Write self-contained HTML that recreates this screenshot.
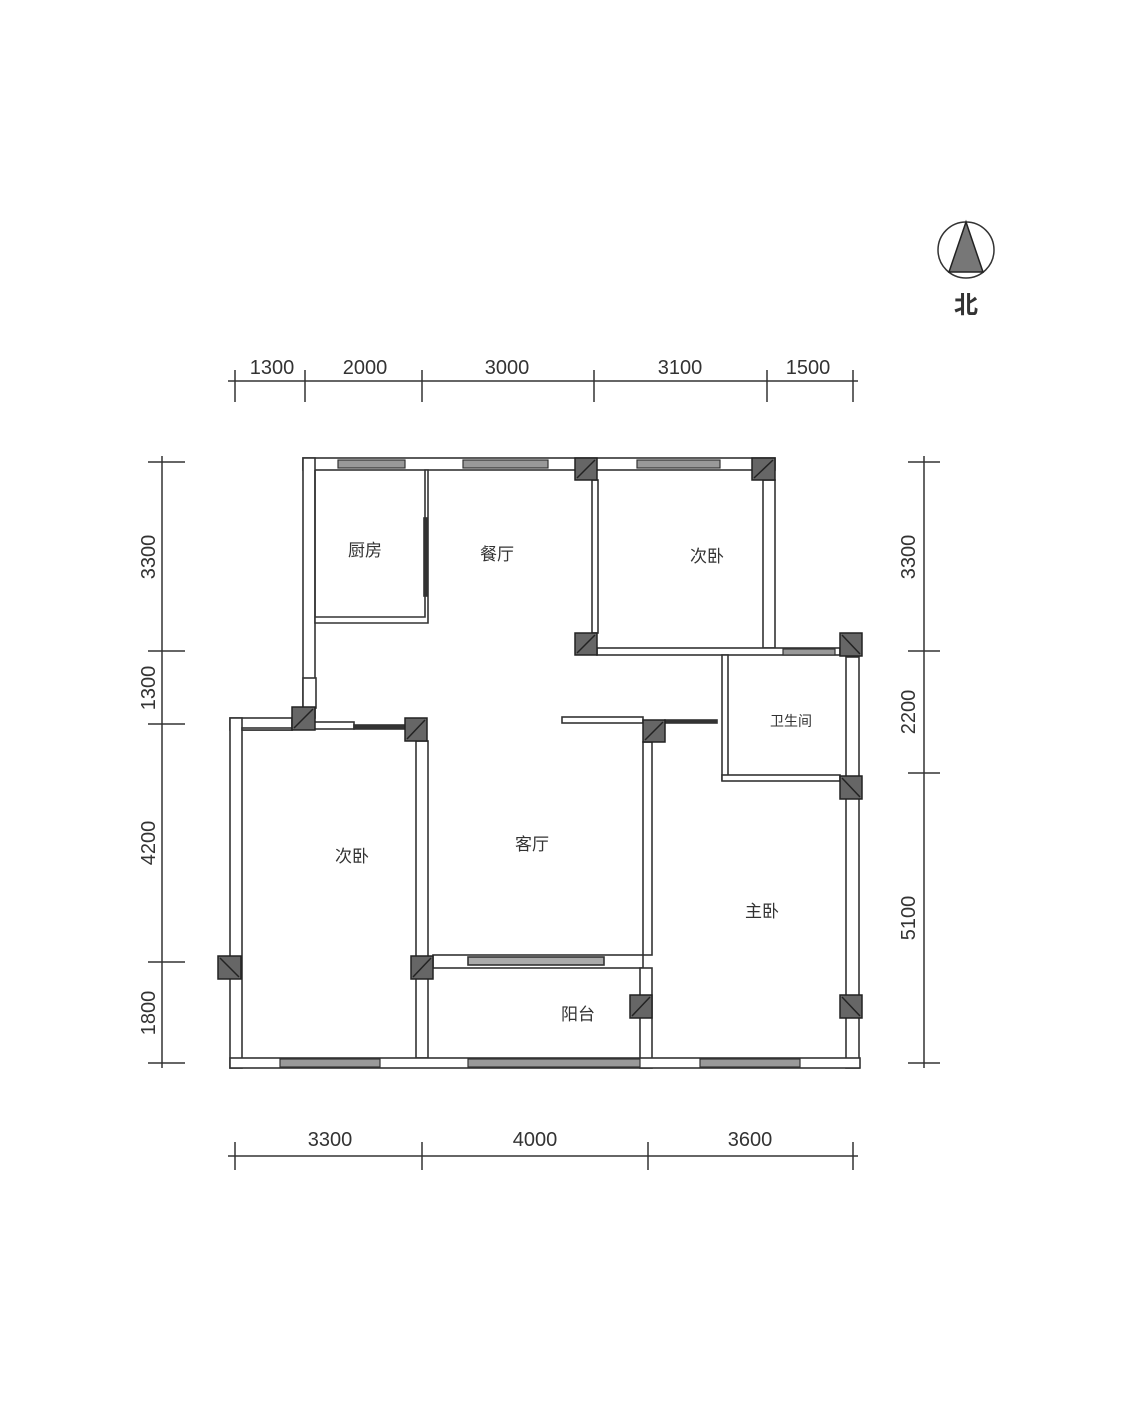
<!DOCTYPE html>
<html><head><meta charset="utf-8"><style>
html,body{margin:0;padding:0;background:#fff;}
svg{display:block;}
text{font-family:"Liberation Sans","Noto Sans CJK SC",sans-serif;fill:#333;}
.w{fill:#fff;stroke:#333;stroke-width:1.6;}
.win{fill:#999;stroke:#333;stroke-width:1.2;}
.col{fill:#666;stroke:#222;stroke-width:1.5;}
.dim{stroke:#333;stroke-width:1.5;fill:none;}
.room{font-size:17px;fill:#333;}
.num{font-size:20px;fill:#444;}
</style></head><body>
<svg width="1125" height="1409" viewBox="0 0 1125 1409" xmlns="http://www.w3.org/2000/svg">
<!-- north -->
<circle cx="966" cy="250" r="28" fill="none" stroke="#333" stroke-width="1.5"/>
<polygon points="966,222 949,272 983,272" fill="#777" stroke="#222" stroke-width="1.5"/>
<text x="966" y="313" text-anchor="middle" font-size="24" font-weight="bold" style="fill:#333">北</text>

<!-- top dims -->
<g class="dim">
<line x1="228" y1="381" x2="858" y2="381"/>
<line x1="235" y1="370" x2="235" y2="402"/><line x1="305" y1="370" x2="305" y2="402"/>
<line x1="422" y1="370" x2="422" y2="402"/><line x1="594" y1="370" x2="594" y2="402"/>
<line x1="767" y1="370" x2="767" y2="402"/><line x1="853" y1="370" x2="853" y2="402"/>
<!-- bottom -->
<line x1="228" y1="1156" x2="858" y2="1156"/>
<line x1="235" y1="1142" x2="235" y2="1170"/><line x1="422" y1="1142" x2="422" y2="1170"/>
<line x1="648" y1="1142" x2="648" y2="1170"/><line x1="853" y1="1142" x2="853" y2="1170"/>
<!-- left -->
<line x1="162" y1="456" x2="162" y2="1068"/>
<line x1="148" y1="462" x2="185" y2="462"/><line x1="148" y1="651" x2="185" y2="651"/>
<line x1="148" y1="724" x2="185" y2="724"/><line x1="148" y1="962" x2="185" y2="962"/>
<line x1="148" y1="1063" x2="185" y2="1063"/>
<!-- right -->
<line x1="924" y1="456" x2="924" y2="1068"/>
<line x1="908" y1="462" x2="940" y2="462"/><line x1="908" y1="651" x2="940" y2="651"/>
<line x1="908" y1="773" x2="940" y2="773"/><line x1="908" y1="1063" x2="940" y2="1063"/>
</g>
<g class="num">
<text x="272" y="374" text-anchor="middle">1300</text>
<text x="365" y="374" text-anchor="middle">2000</text>
<text x="507" y="374" text-anchor="middle">3000</text>
<text x="680" y="374" text-anchor="middle">3100</text>
<text x="808" y="374" text-anchor="middle">1500</text>
<text x="330" y="1146" text-anchor="middle">3300</text>
<text x="535" y="1146" text-anchor="middle">4000</text>
<text x="750" y="1146" text-anchor="middle">3600</text>
<text transform="translate(155,557) rotate(-90)" text-anchor="middle">3300</text>
<text transform="translate(155,688) rotate(-90)" text-anchor="middle">1300</text>
<text transform="translate(155,843) rotate(-90)" text-anchor="middle">4200</text>
<text transform="translate(155,1013) rotate(-90)" text-anchor="middle">1800</text>
<text transform="translate(915,557) rotate(-90)" text-anchor="middle">3300</text>
<text transform="translate(915,712) rotate(-90)" text-anchor="middle">2200</text>
<text transform="translate(915,918) rotate(-90)" text-anchor="middle">5100</text>
</g>

<!-- walls -->
<g class="w">
<!-- top wall -->
<rect x="303" y="458" width="472" height="12"/>
<!-- left top wall -->
<rect x="303" y="458" width="12" height="260"/>
<!-- kitchen -->
<path d="M315 470 L315 617 L425 617 L425 470 L428 470 L428 623 L315 623 Z"/>
<rect x="424" y="518" width="3" height="78" fill="#333"/>
<rect x="303" y="678" width="13" height="30"/>
<!-- bedroom top right -->
<rect x="592" y="480" width="6" height="153"/>
<rect x="763" y="480" width="12" height="168"/>
<rect x="597" y="648" width="243" height="7"/>
<!-- bathroom -->
<rect x="722" y="655" width="6" height="125"/>
<rect x="722" y="775" width="118" height="6"/>
<!-- right wall -->
<rect x="846" y="657" width="13" height="411"/>
<!-- living top walls -->
<rect x="314" y="722" width="40" height="7"/>
<rect x="354" y="725" width="51" height="4" fill="#333"/>
<rect x="562" y="717" width="81" height="6"/>
<rect x="665" y="720" width="52" height="3" fill="#333"/>
<!-- lower left -->
<rect x="230" y="718" width="62" height="12"/>
<rect x="230" y="718" width="12" height="350"/>
<rect x="242" y="728" width="50" height="2"/>
<rect x="416" y="741" width="12" height="317"/>
<!-- living right -->
<rect x="643" y="742" width="9" height="213"/>
<rect x="433" y="955" width="210" height="13"/>
<rect x="468" y="957" width="136" height="8" fill="#aaa"/>
<rect x="640" y="968" width="12" height="100"/>
<!-- bottom wall -->
<rect x="230" y="1058" width="630" height="10"/>
</g>
<!-- windows -->
<g class="win">
<rect x="338" y="460" width="67" height="8"/>
<rect x="463" y="460" width="85" height="8"/>
<rect x="637" y="460" width="83" height="8"/>
<rect x="783" y="649" width="52" height="6"/>
<rect x="280" y="1059" width="100" height="8"/>
<rect x="468" y="1059" width="172" height="8"/>
<rect x="700" y="1059" width="100" height="8"/>
</g>
<!-- columns -->
<g class="col">
<rect x="575" y="458" width="22" height="22"/><line x1="577" y1="478" x2="595" y2="460" stroke="#222"/>
<rect x="752" y="458" width="23" height="22"/><line x1="754" y1="478" x2="773" y2="460" stroke="#222"/>
<rect x="575" y="633" width="22" height="22"/><line x1="577" y1="653" x2="595" y2="635" stroke="#222"/>
<rect x="840" y="633" width="22" height="23"/><line x1="842" y1="635" x2="860" y2="654" stroke="#222"/>
<rect x="840" y="776" width="22" height="23"/><line x1="842" y1="778" x2="860" y2="797" stroke="#222"/>
<rect x="840" y="995" width="22" height="23"/><line x1="842" y1="997" x2="860" y2="1016" stroke="#222"/>
<rect x="292" y="707" width="23" height="23"/><line x1="294" y1="728" x2="313" y2="709" stroke="#222"/>
<rect x="405" y="718" width="22" height="23"/><line x1="407" y1="739" x2="425" y2="720" stroke="#222"/>
<rect x="643" y="720" width="22" height="22"/><line x1="645" y1="740" x2="663" y2="722" stroke="#222"/>
<rect x="218" y="956" width="23" height="23"/><line x1="220" y1="958" x2="239" y2="977" stroke="#222"/>
<rect x="411" y="956" width="22" height="23"/><line x1="413" y1="977" x2="431" y2="958" stroke="#222"/>
<rect x="630" y="995" width="22" height="23"/><line x1="632" y1="1016" x2="650" y2="997" stroke="#222"/>
</g>
<!-- rooms -->
<g class="room">
<text x="365" y="556" text-anchor="middle">厨房</text>
<text x="497" y="560" text-anchor="middle">餐厅</text>
<text x="707" y="562" text-anchor="middle">次卧</text>
<text x="791" y="726" text-anchor="middle" font-size="14">卫生间</text>
<text x="352" y="862" text-anchor="middle">次卧</text>
<text x="532" y="850" text-anchor="middle">客厅</text>
<text x="762" y="917" text-anchor="middle">主卧</text>
<text x="578" y="1020" text-anchor="middle">阳台</text>
</g>
</svg>
</body></html>
